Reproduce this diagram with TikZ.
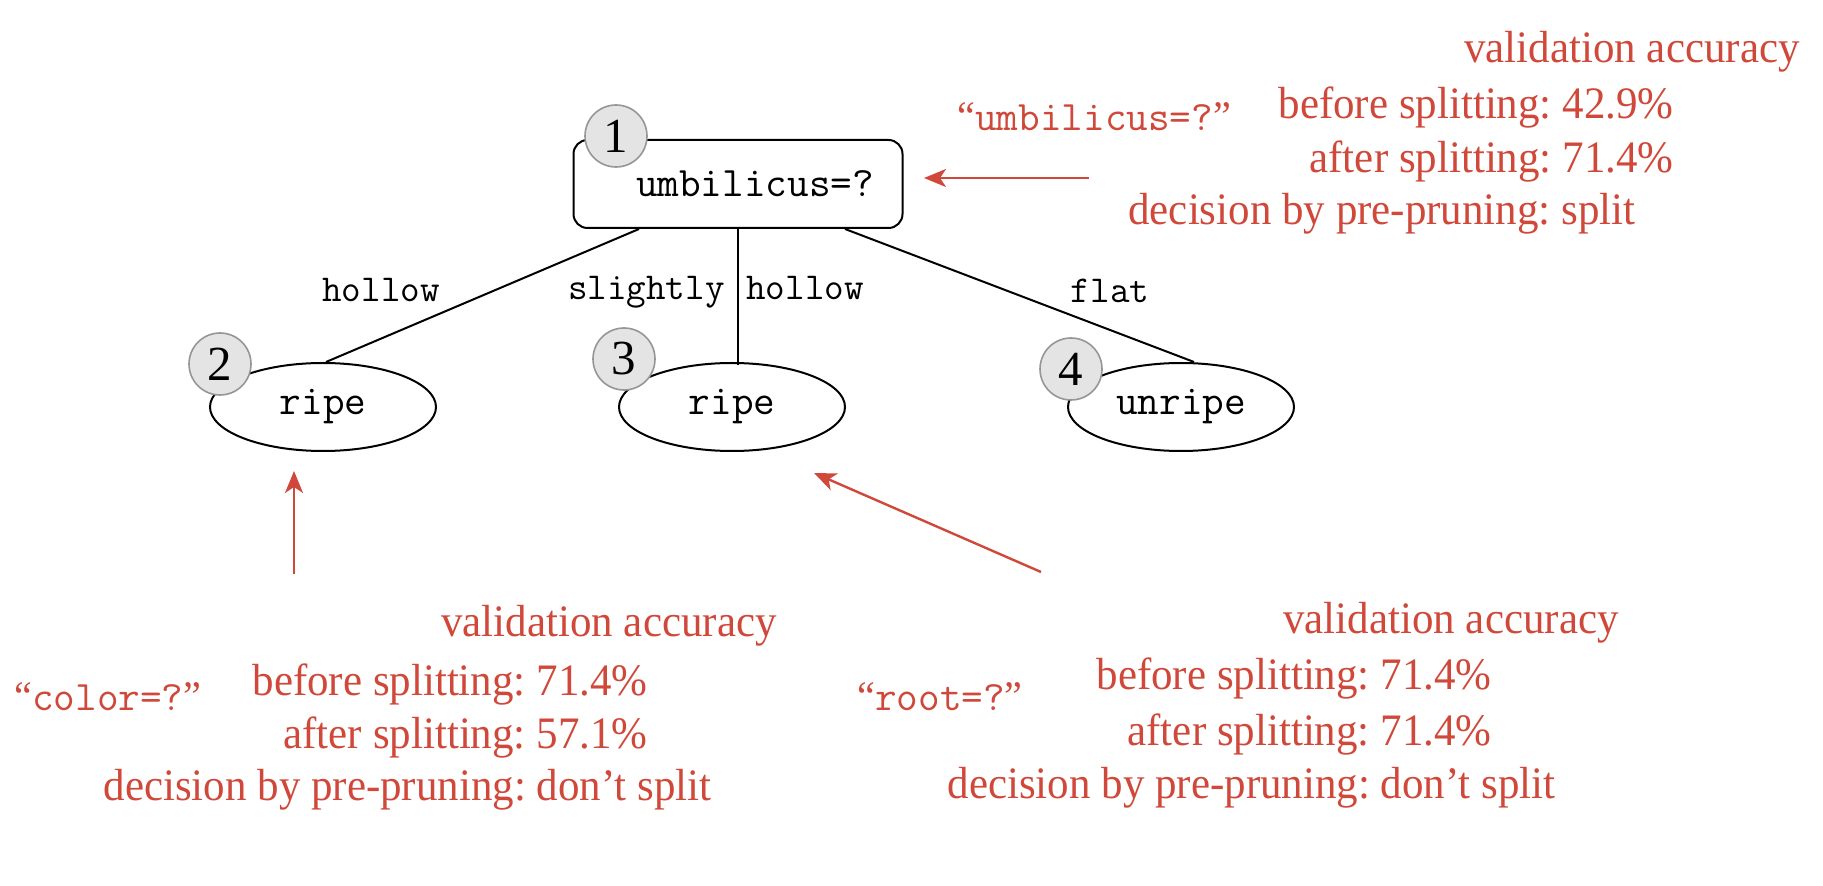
\documentclass[tikz,border=0pt]{standalone}
\usepackage{fontspec}
\usetikzlibrary{shapes.geometric,arrows.meta}
\newfontfamily\redfont[FakeStretch=0.955]{Liberation Serif}
\newfontfamily\numfont{Liberation Serif}
\newcommand{\ttheavy}{\ttfamily\addfontfeatures{FakeBold=0.8}}
\frenchspacing
\definecolor{accred}{RGB}{208,72,58}
\definecolor{numgray}{RGB}{150,150,150}
\definecolor{numfill}{RGB}{228,228,228}
\tikzset{
  redtxt/.style={text=accred, font=\redfont\fontsize{22.5}{27}\selectfont, inner sep=0pt},
  redtt/.style={text=accred, font=\fontsize{21}{25}\selectfont, inner sep=0pt},
  leaf/.style={ellipse, draw, line width=1pt, minimum width=113pt, minimum height=44pt, inner sep=0pt, font=\ttheavy\fontsize{21}{25}\selectfont},
  rootbox/.style={rectangle, rounded corners=7pt, draw, line width=1pt, minimum width=164.5pt, minimum height=44pt, inner sep=0pt, font=\ttheavy\fontsize{21}{25}\selectfont},
  numc/.style={circle, draw=numgray, fill=numfill, line width=0.8pt, minimum size=31pt, inner sep=0pt, font=\numfont\fontsize{24.5}{28}\selectfont},
  edgelab/.style={font=\ttheavy\fontsize{19}{23}\selectfont, inner sep=0pt},
  redarrow/.style={draw=accred, line width=1.2pt, -{Stealth[length=11pt,width=9pt,inset=3pt]}},
  treeedge/.style={line width=1pt}
}
\begin{document}
\begin{tikzpicture}[x=0.5pt,y=-0.5pt]
\useasboundingbox (0,0) rectangle (1823,886);
% tree nodes
\node[rootbox] (root) at (738,184) {\hspace*{17pt}umbilicus=?};
\node[leaf] (e2) at (323,407) {ripe};
\node[leaf] (e3) at (732,407) {ripe};
\node[leaf] (e4) at (1181,407) {unripe};
% edges
\draw[treeedge] ([xshift=-49.5pt]root.south) -- ([xshift=1.5pt]e2.north);
\draw[treeedge] (root.south) -- ([yshift=-1.5pt]e3.north -| root.south);
\draw[treeedge] ([xshift=53.5pt]root.south) -- ([xshift=6.5pt]e4.north);
% edge labels
\node[edgelab, anchor=base] (l1) at (381,302) {hollow};
\node[edgelab, anchor=base east] (l2) at (725,300) {slightly};
\node[edgelab, anchor=base west] (l3) at (746,300) {hollow};
\node[edgelab, anchor=base] (l4) at (1110,303) {flat};
% number circles
\node[numc] (n1) at (616,136) {1};
\node[numc] (n2) at (220,364) {2};
\node[numc] (n3) at (624,359) {3};
\node[numc] (n4) at (1071,369) {4};
% top right annotation
\node[redtt, anchor=base west] (q1) at (957,131) {{\redfont “}\ttheavy umbilicus=?{\redfont ”}};
\node[redtxt, anchor=base] (v1) at (1632,63) {validation accuracy};
\node[redtxt, anchor=base east] (b1) at (1674,119) {before splitting: 42.9\%};
\node[redtxt, anchor=base east] (a1) at (1674,173) {after splitting: 71.4\%};
\node[redtxt, anchor=base east] (d1) at (1636,225) {decision by pre-pruning: split};
\coordinate (r1s) at (1089,178);
\coordinate (r1e) at (924,178);
\draw[redarrow] (r1s) -- (r1e);
% bottom left annotation
\node[redtt, anchor=base west] (q2) at (14,710) {{\redfont “}\ttheavy color=?{\redfont ”}};
\node[redtxt, anchor=base] (v2) at (609,636) {validation accuracy};
\node[redtxt, anchor=base east] (b2) at (648,695) {before splitting: 71.4\%};
\node[redtxt, anchor=base east] (a2) at (648,748) {after splitting: 57.1\%};
\node[redtxt, anchor=base east] (d2) at (712,800) {decision by pre-pruning: don’t split};
\coordinate (r2s) at (294,574);
\coordinate (r2e) at (294,471);
\draw[redarrow] (r2s) -- (r2e);
% bottom right annotation
\node[redtt, anchor=base west] (q3) at (857,710) {{\redfont “}\ttheavy root=?{\redfont ”}};
\node[redtxt, anchor=base] (v3) at (1451,633) {validation accuracy};
\node[redtxt, anchor=base east] (b3) at (1492,689) {before splitting: 71.4\%};
\node[redtxt, anchor=base east] (a3) at (1492,745) {after splitting: 71.4\%};
\node[redtxt, anchor=base east] (d3) at (1556,798) {decision by pre-pruning: don’t split};
\coordinate (r3s) at (1041,572);
\coordinate (r3e) at (814,473);
\draw[redarrow] (r3s) -- (r3e);
\end{tikzpicture}
\end{document}
